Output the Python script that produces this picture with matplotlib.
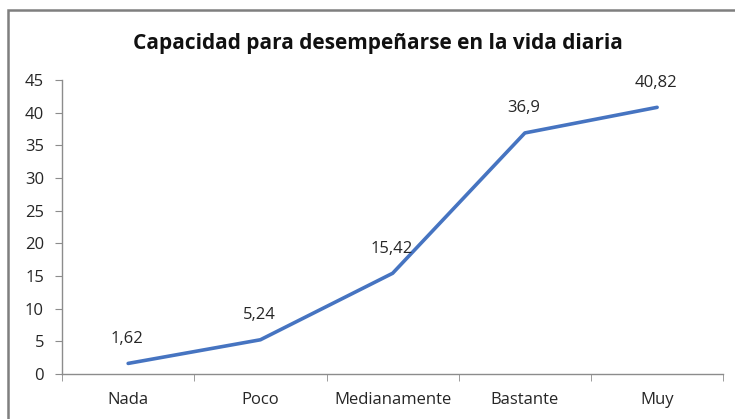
import matplotlib
matplotlib.use("Agg")
import matplotlib.pyplot as plt
from matplotlib.patches import Rectangle

categories = ["Nada", "Poco", "Medianamente", "Bastante", "Muy"]
values = [1.62, 5.24, 15.42, 36.9, 40.82]
value_labels = ["1,62", "5,24", "15,42", "36,9", "40,82"]
title = "Capacidad para desempeñarse en la vida diaria"

plt.rcParams["font.family"] = ["Open Sans", "DejaVu Sans"]

fig = plt.figure(figsize=(7.35, 4.19), dpi=100)
ax = fig.add_axes([0.0844, 0.1074, 0.8996, 0.7016])

x = list(range(len(categories)))
ax.plot(x, values, color="#4674C1", lw=2.6, solid_capstyle="round")
for xi, v, lab in zip(x, values, value_labels):
    ax.annotate(lab, (xi, v), xytext=(-1, 12), textcoords="offset points",
                ha="center", va="bottom", fontsize=12, color="#262626")

ax.set_xlim(-0.5, len(categories) - 0.5)
ax.set_ylim(0, 45)
ax.set_yticks(range(0, 46, 5))
ax.set_xticks(x)
ax.set_xticklabels(categories)
ax.set_xticks([i - 0.5 for i in range(len(categories) + 1)], minor=True)
ax.tick_params(axis="x", which="major", length=0, pad=13, labelsize=12, labelcolor="#262626")
ax.tick_params(axis="x", which="minor", length=5, color="#8c8c8c")
ax.tick_params(axis="y", length=5, color="#8c8c8c", labelsize=12, labelcolor="#262626", pad=8)
for s in ["top", "right"]:
    ax.spines[s].set_visible(False)
for s in ["left", "bottom"]:
    ax.spines[s].set_color("#8c8c8c")
    ax.spines[s].set_linewidth(1)

fig.text(0.514, 0.895, title, ha="center", va="center", fontsize=15,
         fontweight="bold", color="#111111")

# chart frame (cropped at right and bottom in the reference)
fig.patches.append(Rectangle((8 / 735, -0.05), 1.2, 1 - 10 / 419 + 0.05,
                             transform=fig.transFigure, fill=False,
                             edgecolor="#7f7f7f", lw=1.8))

fig.savefig("out.png", dpi=100)
